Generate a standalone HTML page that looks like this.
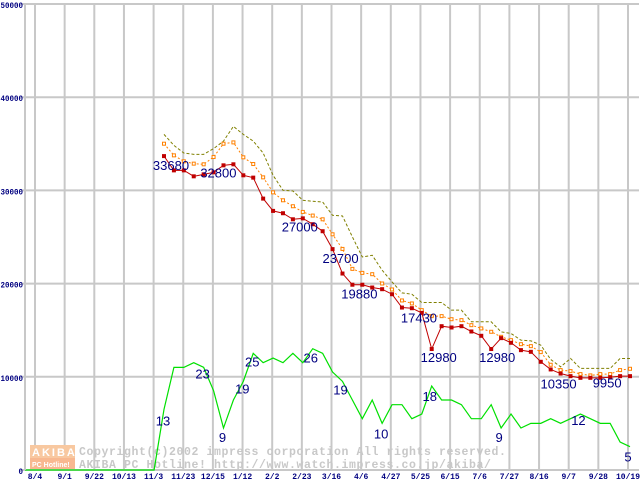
<!DOCTYPE html>
<html><head><meta charset="utf-8"><style>
html,body{margin:0;padding:0;background:#fff;}
svg{display:block;}
.tk{font-family:"Liberation Mono",monospace;font-size:8px;font-weight:bold;fill:#000080;}
.lb{font-family:"Liberation Sans",sans-serif;font-size:13px;fill:#000080;}
.wm{font-family:"Liberation Mono",monospace;font-size:11.5px;font-weight:bold;fill:#c8c8c8;letter-spacing:0.6px;}
</style></head><body>
<svg id="chart" width="640" height="480" viewBox="0 0 640 480" xmlns="http://www.w3.org/2000/svg">
<g id="grid"></g>
<g id="wmark">
 <rect x="30" y="445" width="45" height="13" fill="#f8c8a0"/>
 <rect x="30" y="458" width="45" height="11" fill="#f8b890"/>
 <text x="32" y="456" font-family="Liberation Sans,sans-serif" font-size="11" font-weight="bold" fill="#fff" letter-spacing="2">AKIBA</text>
 <text x="32" y="467" font-family="Liberation Sans,sans-serif" font-size="7" font-weight="bold" fill="#fff">PC Hotline!</text>
 <text class="wm" x="79" y="455">Copyright(c)2002 impress corporation All rights reserved.</text>
 <text class="wm" x="79" y="468">AKIBA PC Hotline!  http://www.watch.impress.co.jp/akiba/</text>
</g>
<g id="series"></g>
<g id="labels"></g>
<g id="axes"></g>
</svg>
<script>
const xTickLabels=["8/4","9/1","9/22","10/13","11/3","11/23","12/15","1/12","2/2","2/23","3/16","4/6","4/27","5/25","6/15","7/6","7/27","8/16","9/7","9/28","10/19"];
const yTickValues=[0,10000,20000,30000,40000,50000];
const lowPrice=[33680,32150,32150,31510,31720,31940,32690,32800,31620,31370,29120,27800,27550,26900,27000,26370,25620,23700,21080,19880,19880,19580,19400,18860,17430,17360,16860,12980,15430,15290,15430,14860,14400,12980,14150,13650,12860,12680,11610,10790,10350,10070,9890,9890,9890,9950,10070,10070];
const avgPrice=[35010,33760,33120,32870,32800,33580,35010,35150,33550,32830,31400,29790,28940,28300,27690,27300,26900,25290,23720,21580,21150,21010,20010,19370,18190,17870,17150,16510,16510,16180,16080,15540,15190,14830,14290,13930,13500,13290,12650,11290,10720,10610,10290,10150,10290,10290,10720,10860];
const highPrice=[36010,34830,34010,33870,33870,34480,35290,36870,36010,35290,34010,31620,30010,29940,28940,28830,28760,27330,27260,25010,22860,23040,21440,20180,19000,18860,17970,17970,17970,17150,17150,15900,15900,15900,14820,14650,13930,13860,13400,11860,11070,11970,10900,10900,10900,10900,11970,11970];
const shopCount=[13,22,22,23,22,17,9,15,19,25,23,24,23,25,23,26,25,21,19,15,11,15,10,14,14,11,12,18,15,15,14,11,11,14,9,12,9,10,10,11,10,11,12,11,10,10,6,5];
const priceLabels=[[0,"33680",7,9],[7,"32800",-15,8],[14,"27000",-3,8],[17,"23700",8,9],[19,"19880",7,9],[24,"17430",17,10],[27,"12980",7,8],[33,"12980",6,8],[40,"10350",-2,10],[45,"9950",-3,5]];
const countLabels=[[0,"13",-1,11],[4,"23",-1,6],[6,"9",-1,9],[8,"19",-1,7],[9,"25",-1,8],[15,"26",-2,9],[18,"19",-2,8],[22,"10",-1,10],[27,"18",-2,10],[34,"9",-2,9],[42,"12",-2,6],[47,"5",-2,10]];

const NS="http://www.w3.org/2000/svg";
const X0=25,X1=639,Y0=470,YT=4;
const px=i=>164+i*9.915;
const py=v=>Y0-v*(Y0-YT)/50000;
const pn=n=>Y0-n*4.665;
const gx=k=>35+k*29.65;
function mk(tag,attrs,parent){const e=document.createElementNS(NS,tag);for(const k in attrs)e.setAttribute(k,attrs[k]);parent.appendChild(e);return e;}
const grid=document.getElementById('grid'),ser=document.getElementById('series'),lab=document.getElementById('labels'),ax=document.getElementById('axes');

xTickLabels.forEach((t,k)=>{
 const l=mk('line',{x1:gx(k),x2:gx(k),y1:YT,y2:Y0,stroke:'#c8c8c8','stroke-width':2},grid);
 
 
 const tx=mk('text',{x:gx(k),y:479,'text-anchor':'middle',class:'tk'},ax);
 tx.textContent=t;
 
 
});
yTickValues.forEach(v=>{
 const l=mk('line',{x1:X0-4,x2:X1,y1:py(v),y2:py(v),stroke:'#c8c8c8','stroke-width':2},grid);
 
 
 const s=String(v);
 const tx=mk('text',{x:X0-2,y:Math.max(py(v)+4,8),'text-anchor':'end',class:'tk',textLength:s.length*4.5,lengthAdjust:'spacingAndGlyphs'},ax);
 tx.textContent=s;
 
 
});
const axl=mk('line',{x1:X0,x2:X0,y1:YT,y2:Y0,stroke:'#c8c8c8','stroke-width':2},ax);



function line(vals,fy,color,dash,name){
 const pts=vals.map((v,i)=>px(i)+','+fy(v)).join(' ');
 const p=mk('polyline',{points:pts,fill:'none',stroke:color,'stroke-width':1},ser);
 if(dash)p.setAttribute('stroke-dasharray',dash);
 
 
}
line(highPrice,py,'#808000','3,2','high-price-line');
line(avgPrice,py,'#ff8000','2,2','avg-price-line');
avgPrice.forEach((v,i)=>{
 const r=mk('rect',{x:px(i)-1.5,y:py(v)-1.5,width:3,height:3,fill:'#fff',stroke:'#ff8000','stroke-width':1},ser);
 
 
});
line(lowPrice,py,'#c00000',null,'low-price-line');
lowPrice.forEach((v,i)=>{
 const r=mk('rect',{x:px(i)-2,y:py(v)-2,width:4,height:4,fill:'#c00000'},ser);
 
 
});
const gp=[X0+','+pn(0),px(-1)+','+pn(0)].concat(shopCount.map((n,i)=>px(i)+','+pn(n)));
const g=mk('polyline',{points:gp.join(' '),fill:'none',stroke:'#00e000','stroke-width':1.2},ser);



priceLabels.forEach(([i,t,dx,dy])=>{
 const tx=mk('text',{x:px(i)+dx,y:py(lowPrice[i])+dy+5,'text-anchor':'middle',class:'lb'},lab);
 tx.textContent=t;
 
 
});
countLabels.forEach(([i,t,dx,dy])=>{
 const tx=mk('text',{x:px(i)+dx,y:pn(shopCount[i])+dy+5,'text-anchor':'middle',class:'lb'},lab);
 tx.textContent=t;
 
 
});
</script>
</body></html>
